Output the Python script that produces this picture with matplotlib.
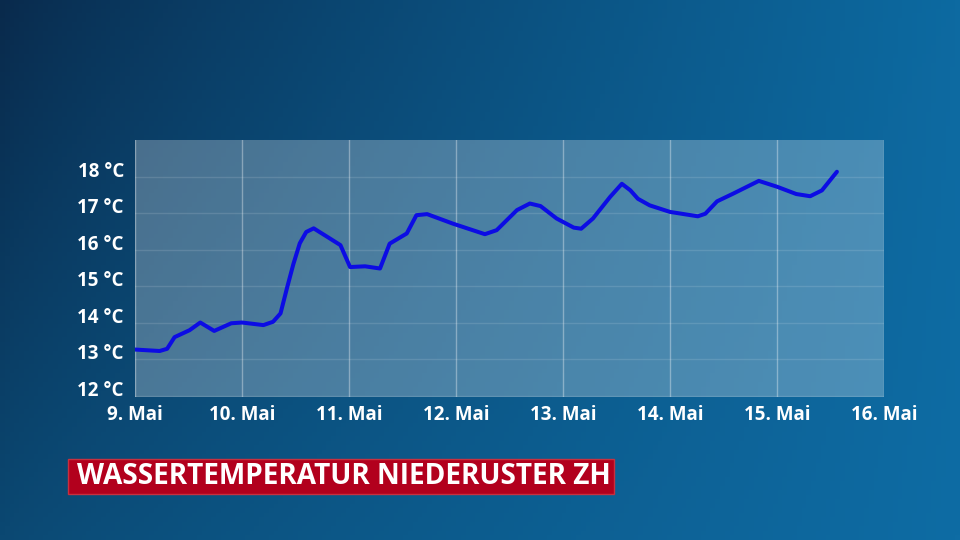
import numpy as np
import matplotlib.pyplot as plt
from matplotlib.patches import Rectangle

# days since 9. Mai 00:00, water temperature in °C
days = [0.00, 0.23, 0.30, 0.37, 0.51, 0.61, 0.74, 0.90, 1.00, 1.20, 1.29, 1.36,
        1.42, 1.48, 1.54, 1.60, 1.67, 1.79, 1.92, 2.01, 2.15, 2.29, 2.38, 2.54,
        2.63, 2.73, 2.97, 3.27, 3.38, 3.57, 3.69, 3.79, 3.94, 4.10, 4.17, 4.28,
        4.44, 4.55, 4.63, 4.70, 4.81, 5.00, 5.26, 5.33, 5.44, 5.59, 5.83, 6.00,
        6.18, 6.31, 6.42, 6.56]
temps = [13.06, 13.02, 13.08, 13.40, 13.59, 13.80, 13.57, 13.78, 13.80, 13.73, 13.82, 14.05,
         14.74, 15.40, 15.97, 16.28, 16.38, 16.16, 15.92, 15.32, 15.34, 15.28, 15.96, 16.24,
         16.74, 16.77, 16.51, 16.22, 16.33, 16.88, 17.06, 16.99, 16.65, 16.40, 16.37, 16.65,
         17.24, 17.60, 17.42, 17.19, 17.01, 16.83, 16.71, 16.78, 17.12, 17.33, 17.68, 17.52,
         17.32, 17.26, 17.42, 17.93]

day_labels = ['9. Mai', '10. Mai', '11. Mai', '12. Mai', '13. Mai', '14. Mai', '15. Mai', '16. Mai']
temp_ticks = [12, 13, 14, 15, 16, 17, 18]
title = 'WASSERTEMPERATUR NIEDERUSTER ZH'

fig = plt.figure(figsize=(9.6, 5.4), dpi=100)

# background gradient
bg = fig.add_axes([0, 0, 1, 1])
bg.set_axis_off()
tl = np.array([9, 42, 76]) / 255
tr = np.array([13, 106, 161]) / 255
bl = np.array([11, 72, 114]) / 255
br = np.array([14, 108, 164]) / 255
u = np.linspace(0, 1, 200)[None, :, None] ** 0.8
v = np.linspace(0, 1, 120)[:, None, None]
img = (1 - v) * ((1 - u) * tl + u * tr) + v * ((1 - u) * bl + u * br)
img = np.clip(img, 0, 1)
bg.imshow(img, aspect='auto', extent=[0, 1, 0, 1], origin='upper')
bg.set_xlim(0, 1)
bg.set_ylim(0, 1)

ax = fig.add_axes([135 / 960, 1 - 397 / 540, 749 / 960, 257 / 540])
ax.set_facecolor((1, 1, 1, 0.26))
for s in ax.spines.values():
    s.set_visible(False)

ax.plot(days, temps, color='#0c0ce4', lw=2.9, solid_joinstyle='round',
        solid_capstyle='round', zorder=3)

ax.set_xlim(0, 7)
ax.set_ylim(11.76, 18.8)
ax.set_xticks(range(len(day_labels)))
ax.set_xticklabels(day_labels)
ax.set_yticks(temp_ticks)
ax.set_yticklabels([f'{t} °C' for t in temp_ticks])
ax.set_yticks(np.arange(11.8, 18.8, 1), minor=True)

ax.tick_params(axis='both', which='both', length=0, colors='white')
ax.tick_params(axis='x', pad=6)
ax.tick_params(axis='y', pad=8)
for lab in ax.get_xticklabels() + ax.get_yticklabels():
    lab.set_fontfamily('Open Sans')
    lab.set_fontweight('bold')
    lab.set_fontsize(13.5)

ax.grid(axis='x', which='major', color='white', alpha=0.35, lw=1)
ax.grid(axis='y', which='minor', color='white', alpha=0.12, lw=1)
ax.set_axisbelow(True)

# title box
fig.patches.append(Rectangle((68 / 960, 1 - 494 / 540), 546 / 960, 35 / 540,
                             transform=fig.transFigure, facecolor='#b2001d',
                             edgecolor='#c8303f', lw=1))
fig.text(77 / 960, 1 - 477 / 540, title, color='white', fontsize=20.2,
         fontweight='bold', family='Open Sans', va='center', ha='left')

fig.savefig('out.png', dpi=100)
